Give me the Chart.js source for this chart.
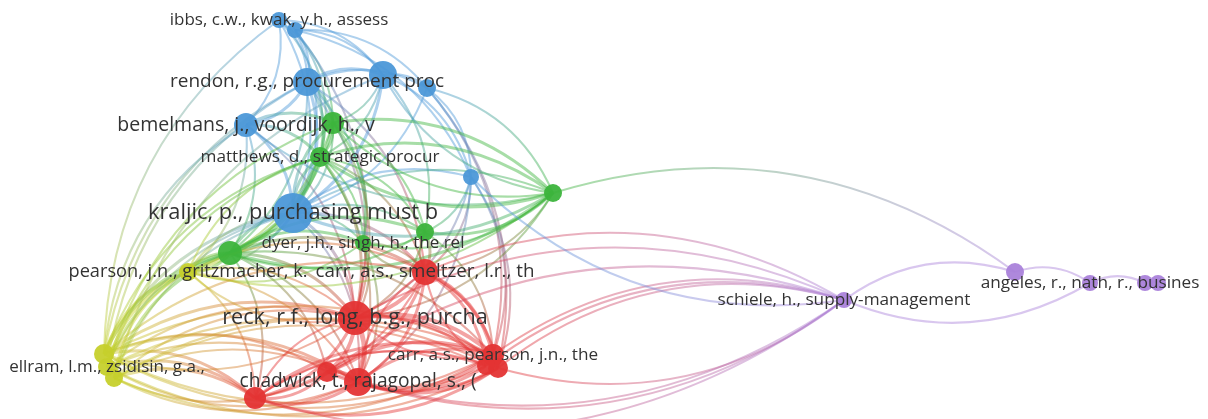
<!DOCTYPE html>
<html>
<head>
<meta charset="utf-8">
<title>co-citation map</title>
<script src="https://cdn.jsdelivr.net/npm/chart.js@4.4.1/dist/chart.umd.min.js"></script>
<style>
  html, body { margin: 0; padding: 0; background: #fff; }
  #wrap { width: 1208px; height: 419px; }
</style>
</head>
<body>
<div id="wrap"><canvas id="myChart"></canvas></div>
<script>
// node data (map coordinates), one entry per cited document
var nodeNames = [
  'ibbs, c.w., kwak, y.h., assess', '', 'rendon, r.g., procurement proc', '', '',
  'bemelmans, j., voordijk, h., v', 'kraljic, p., purchasing must b', '',
  '', 'matthews, d., strategic procur', '', '', '', 'dyer, j.h., singh, h., the rel',
  'pearson, j.n., gritzmacher, k.', '', 'ellram, l.m., zsidisin, g.a.,', '',
  'carr, a.s., smeltzer, l.r., th', 'reck, r.f., long, b.g., purcha',
  'carr, a.s., pearson, j.n., the', '', '', '', 'chadwick, t., rajagopal, s., (', '',
  'schiele, h., supply-management', '', 'angeles, r., nath, r., busines', '', ''
];
var nodeX = [279, 295, 307, 383, 427, 246, 293, 471,
             333, 320, 553, 230, 425, 363,
             188, 104, 107, 114,
             425, 355, 493, 498, 486, 327, 358, 255,
             844, 1015, 1090, 1145, 1158];
var nodeY = [20, 30, 82, 75, 88, 125, 213, 177,
             123, 157, 193, 253, 232, 243,
             272, 354, 367, 378,
             272, 318, 355, 368, 366, 372, 382, 398,
             300, 272, 283, 283, 283];
var nodeWeight = [8, 8, 14, 14, 9, 12, 20, 8,
                  11, 10, 9, 12, 9, 8,
                  9, 10, 9, 9,
                  13, 17, 11, 10, 9, 10, 14, 11,
                  8, 9, 8, 8, 8];
// 0 blue, 1 green, 2 yellow, 3 red, 4 purple
var nodeCluster = [0, 0, 0, 0, 0, 0, 0, 0,
                   1, 1, 1, 1, 1, 1,
                   2, 2, 2, 2,
                   3, 3, 3, 3, 3, 3, 3, 3,
                   4, 4, 4, 4, 4];

// co-citation links: [from, to, strength]
var links = [
  [0,1,1],[0,2,1],[0,5,1],[0,6,1],[0,3,1],[0,8,1],[0,9,1],[1,2,1],[1,3,1],[1,4,1],[1,6,1],[1,7,1],[1,9,1],[1,19,1],
  [2,3,2],[2,5,2],[2,6,2],[2,8,2],[2,9,2],[2,11,1],[2,19,1],[2,18,1],[2,4,1],[2,13,1],
  [3,4,1],[3,6,2],[3,8,1],[3,9,1],[3,7,1],[3,12,1],
  [4,7,1],[4,20,1],[4,21,1],[4,6,1],[4,10,1],
  [5,6,2],[5,8,2],[5,9,2],[5,11,1],[5,14,1],[5,19,1],
  [6,8,2],[6,9,2],[6,11,2],[6,12,1],[6,13,1],[6,14,1],[6,18,2],[6,19,2],[6,24,1],[6,7,1],[6,10,1],
  [7,18,1],[7,20,1],[7,21,1],[7,12,1],[7,19,1],[7,24,1],
  [8,9,2],[8,10,2],[8,11,2],[8,6,1],[8,13,1],[8,19,1],[8,12,1],[8,14,1],
  [9,10,2],[9,11,3],[9,12,1],[9,13,1],[9,14,1],[9,18,1],[9,19,2],[9,24,1],
  [10,11,2],[10,12,2],[10,13,1],[10,6,2],[10,5,1],[10,9,2],[10,18,1],[10,19,1],[10,27,1],[10,14,1],[10,3,1],[10,8,1],
  [11,12,2],[11,13,2],[11,14,2],[11,18,2],[11,19,2],[11,24,1],[11,25,1],[11,23,1],[11,20,1],[11,6,2],
  [12,13,1],[12,18,2],[12,19,1],[12,20,1],[12,11,1],
  [13,18,1],[13,19,1],[13,24,1],[13,14,1],
  [15,14,2],[15,11,3],[15,6,2],[15,5,1],[15,2,1],[15,0,1],[15,19,2],[15,24,2],[15,25,2],[15,23,1],[15,20,1],[15,18,1],[15,9,1],
  [16,14,2],[16,11,2],[16,19,1],[16,25,2],[16,24,1],[16,21,1],[16,8,1],[16,2,1],[16,9,1],[16,6,1],
  [17,25,2],[17,24,1],[17,19,1],[17,20,1],[17,14,1],[17,6,1],[17,22,1],[17,11,2],[17,3,1],
  [14,11,2],[14,19,1],[14,18,1],[14,24,1],[14,25,1],[14,6,1],[14,9,1],
  [20,15,1],[21,16,1],[24,17,1],[22,15,1],[24,16,1],[23,17,1],[19,15,1],[20,17,1],
  [18,19,3],[18,20,3],[18,21,2],[18,24,2],[18,23,2],[18,25,1],[18,13,1],[18,12,1],[18,22,2],[18,26,1],
  [19,20,3],[19,21,2],[19,22,2],[19,23,3],[19,24,4],[19,25,2],[19,26,1],[19,14,1],
  [20,21,2],[20,24,3],[20,26,1],[21,24,2],[21,25,2],[21,23,1],[22,24,2],[22,26,1],
  [23,24,3],[23,25,2],[23,20,2],[24,25,2],[24,20,2],[25,20,2],[25,21,1],[25,22,1],
  [20,19,1],[24,18,1],[21,18,1],[25,19,1],[23,26,1],[21,26,1],
  [26,27,1],[28,26,1],[27,28,1],[28,29,1],[29,30,1],[26,24,1],[26,23,1],[26,25,1],[26,21,1],[26,7,1]
];

var clusterColors = [[76,152,216],[60,180,60],[198,208,44],[228,52,52],[170,130,218]];
var labelSize = {0:17, 2:19, 5:19.5, 6:21.8, 9:17.2, 13:17, 14:18.2, 16:17, 18:18.8, 19:21.6, 20:17.2, 24:19.2, 26:17.2, 28:17.2};

function rgba(c, a) { return 'rgba(' + c[0] + ',' + c[1] + ',' + c[2] + ',' + a + ')'; }

var linkPlugin = {
  id: 'links',
  beforeDatasetsDraw: function(chart) {
    var ctx = chart.ctx, xs = chart.scales.x, ys = chart.scales.y;
    ctx.save();
    links.forEach(function(l) {
      var x1 = xs.getPixelForValue(nodeX[l[0]]), y1 = ys.getPixelForValue(nodeY[l[0]]);
      var x2 = xs.getPixelForValue(nodeX[l[1]]), y2 = ys.getPixelForValue(nodeY[l[1]]);
      var k = 0.25;
      var cx = (x1 + x2) / 2 + k * (y2 - y1), cy = (y1 + y2) / 2 - k * (x2 - x1);
      var g = ctx.createLinearGradient(x1, y1, x2, y2);
      g.addColorStop(0, rgba(clusterColors[nodeCluster[l[0]]], 0.45));
      g.addColorStop(1, rgba(clusterColors[nodeCluster[l[1]]], 0.45));
      ctx.strokeStyle = g;
      ctx.lineWidth = 1.2 + l[2] * 0.9;
      ctx.beginPath();
      ctx.moveTo(x1, y1);
      ctx.quadraticCurveTo(cx, cy, x2, y2);
      ctx.stroke();
    });
    ctx.restore();
  },
  afterDatasetsDraw: function(chart) {
    var ctx = chart.ctx, xs = chart.scales.x, ys = chart.scales.y;
    ctx.save();
    ctx.fillStyle = '#333';
    ctx.textAlign = 'center';
    ctx.textBaseline = 'middle';
    nodeNames.forEach(function(name, i) {
      if (!name) return;
      ctx.font = labelSize[i] + 'px "Open Sans"';
      ctx.fillText(name, xs.getPixelForValue(nodeX[i]), ys.getPixelForValue(nodeY[i]));
    });
    ctx.restore();
  }
};

var ctx = document.getElementById('myChart').getContext('2d');
var myChart = new Chart(ctx, {
  type: 'bubble',
  data: {
    datasets: [{
      data: nodeX.map(function(x, i) { return { x: x, y: nodeY[i], r: nodeWeight[i] }; }),
      backgroundColor: nodeCluster.map(function(c) { return rgba(clusterColors[c], 0.95); }),
      borderWidth: 0,
      clip: false
    }]
  },
  options: {
    responsive: true,
    maintainAspectRatio: false,
    animation: false,
    layout: { padding: 0, autoPadding: false },
    plugins: { legend: { display: false }, tooltip: { enabled: false } },
    scales: {
      x: { type: 'linear', min: 0, max: 1208, display: false },
      y: { type: 'linear', min: 0, max: 419, reverse: true, display: false }
    }
  },
  plugins: [linkPlugin]
});
</script>
</body>
</html>
